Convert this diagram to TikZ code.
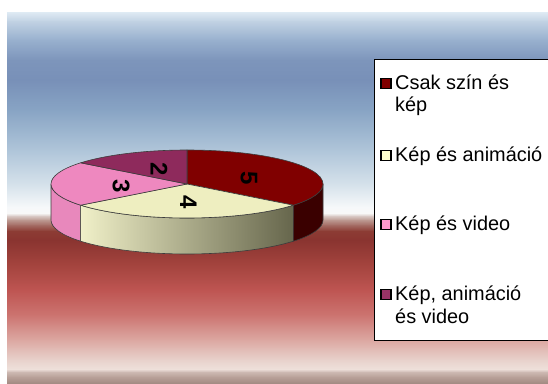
\documentclass[tikz,border=0pt]{standalone}
\usepackage{fontspec}
\setmainfont{Liberation Sans}
\definecolor{b1}{HTML}{DCE8F2}
\definecolor{b2}{HTML}{BFD0E2}
\definecolor{b3}{HTML}{98B0CE}
\definecolor{b4}{HTML}{7D95BB}
\definecolor{b5}{HTML}{7890B8}
\definecolor{b6}{HTML}{88A4C4}
\definecolor{b7}{HTML}{AFC5D9}
\definecolor{b8}{HTML}{D6E2EB}
\definecolor{b9}{HTML}{F6F8FA}
\definecolor{b10}{HTML}{F8F8F8}
\definecolor{b11}{HTML}{D8C8C4}
\definecolor{b12}{HTML}{BC9890}
\definecolor{b13}{HTML}{A46C64}
\definecolor{b14}{HTML}{8C3C34}
\definecolor{b15}{HTML}{8A3430}
\definecolor{b16}{HTML}{A4443E}
\definecolor{b17}{HTML}{BE5552}
\definecolor{b18}{HTML}{CC7470}
\definecolor{b19}{HTML}{DCA8A2}
\definecolor{b20}{HTML}{E8D2CC}
\definecolor{b21}{HTML}{EEE0DA}
\definecolor{b22}{HTML}{CDB9B2}
\definecolor{b23}{HTML}{B8A098}
\definecolor{b24}{HTML}{A48C84}
\definecolor{redtop}{HTML}{800000}
\definecolor{redside}{HTML}{3A0000}
\definecolor{yeltop}{HTML}{EEEEC0}
\definecolor{yelsideL}{HTML}{F0F0C8}
\definecolor{yelsideR}{HTML}{66664C}
\definecolor{pinktop}{HTML}{EE88BF}
\definecolor{pinkside}{HTML}{E888BC}
\definecolor{purptop}{HTML}{8E2A5C}
\definecolor{edge}{HTML}{3C3C3C}
\definecolor{mred}{HTML}{800000}
\definecolor{myel}{HTML}{FFFFCC}
\definecolor{mpink}{HTML}{FF99CC}
\definecolor{mpurp}{HTML}{993366}
\tikzset{
  slice/.style={draw=edge, line width=0.6bp, line join=round},
  legmark/.style={draw=black, line width=1.2bp, minimum size=10bp, inner sep=0pt},
  legtext/.style={anchor=base west, inner sep=0pt, font=\fontsize{19.9bp}{22bp}\selectfont},
  val/.style={rotate=-90, inner sep=0pt, font=\fontsize{24bp}{24bp}\selectfont\bfseries},
}
\begin{document}
\begin{tikzpicture}[x=1bp,y=1bp]
\useasboundingbox (0,0) rectangle (548,383);
\clip (0,0) rectangle (548,383);
% background
\shade[top color=b1,bottom color=b2] (7,370) rectangle (548,360.7);
\shade[top color=b2,bottom color=b3] (7,361) rectangle (548,342.7);
\shade[top color=b3,bottom color=b4] (7,343) rectangle (548,322.7);
\shade[top color=b4,bottom color=b5] (7,323) rectangle (548,302.7);
\shade[top color=b5,bottom color=b6] (7,303) rectangle (548,272.7);
\shade[top color=b6,bottom color=b7] (7,273) rectangle (548,232.7);
\shade[top color=b7,bottom color=b8] (7,233) rectangle (548,197.7);
\shade[top color=b8,bottom color=b9] (7,198) rectangle (548,175.7);
\shade[top color=b9,bottom color=b10] (7,176) rectangle (548,169.7);
\shade[top color=b10,bottom color=b11] (7,170) rectangle (548,166.7);
\shade[top color=b11,bottom color=b12] (7,167) rectangle (548,162.7);
\shade[top color=b12,bottom color=b13] (7,163) rectangle (548,157.7);
\shade[top color=b13,bottom color=b14] (7,158) rectangle (548,151.7);
\shade[top color=b14,bottom color=b15] (7,152) rectangle (548,142.7);
\shade[top color=b15,bottom color=b16] (7,143) rectangle (548,117.7);
\shade[top color=b16,bottom color=b17] (7,118) rectangle (548,92.7);
\shade[top color=b17,bottom color=b18] (7,93) rectangle (548,67.7);
\shade[top color=b18,bottom color=b19] (7,68) rectangle (548,42.7);
\shade[top color=b19,bottom color=b20] (7,43) rectangle (548,22.7);
\shade[top color=b20,bottom color=b21] (7,23) rectangle (548,13.7);
\shade[top color=b21,bottom color=b22] (7,14) rectangle (548,10.7);
\shade[top color=b22,bottom color=b23] (7,11) rectangle (548,5.7);
\shade[top color=b23,bottom color=b24] (7,6) rectangle (548,0);
% pie
\coordinate (C) at (187,199);
% sides
\path[slice, fill=pinkside] (C) ++(180:136 and 34) arc[start angle=180, end angle=218.571, x radius=136, y radius=34] -- ++(0,-36) arc[start angle=218.571, end angle=180, x radius=136, y radius=34] -- cycle;
\path[slice, left color=yelsideL, right color=yelsideR] (C) ++(218.571:136 and 34) arc[start angle=218.571, end angle=321.429, x radius=136, y radius=34] -- ++(0,-36) arc[start angle=321.429, end angle=218.571, x radius=136, y radius=34] -- cycle;
\path[slice, fill=redside] (C) ++(321.429:136 and 34) arc[start angle=321.429, end angle=360, x radius=136, y radius=34] -- ++(0,-36) arc[start angle=360, end angle=321.429, x radius=136, y radius=34] -- cycle;
% top
\path[slice, fill=redtop] (C) -- ++(90:136 and 34) arc[start angle=90, end angle=-38.571, x radius=136, y radius=34] -- cycle;
\path[slice, fill=yeltop] (C) -- ++(-38.571:136 and 34) arc[start angle=-38.571, end angle=-141.429, x radius=136, y radius=34] -- cycle;
\path[slice, fill=pinktop] (C) -- ++(-141.429:136 and 34) arc[start angle=-141.429, end angle=-218.571, x radius=136, y radius=34] -- cycle;
\path[slice, fill=purptop] (C) -- ++(141.429:136 and 34) arc[start angle=141.429, end angle=90, x radius=136, y radius=34] -- cycle;
% values
\node[val] (v5) at (249,204.5) {5};
\node[val] (v4) at (188.5,180.5) {4};
\node[val] (v3) at (121,197) {3};
\node[val] (v2) at (159,213.5) {2};
% legend
\draw[fill=white, line width=0.8bp] (374,324) rectangle (560,43);
\node[legmark, fill=mred] (m1) at (386,299.5) {};
\node[legtext] (t1a) at (395,294) {Csak szín és};
\node[legtext] (t1b) at (395,272) {kép};
\node[legmark, fill=myel] (m2) at (386,227.5) {};
\node[legtext] (t2) at (395,222) {Kép és animáció};
\node[legmark, fill=mpink] (m3) at (386,158.5) {};
\node[legtext] (t3) at (395,153) {Kép és video};
\node[legmark, fill=mpurp] (m4) at (386,88.5) {};
\node[legtext] (t4a) at (395,83) {Kép, animáció};
\node[legtext] (t4b) at (395,60) {és video};
\end{tikzpicture}
\end{document}
